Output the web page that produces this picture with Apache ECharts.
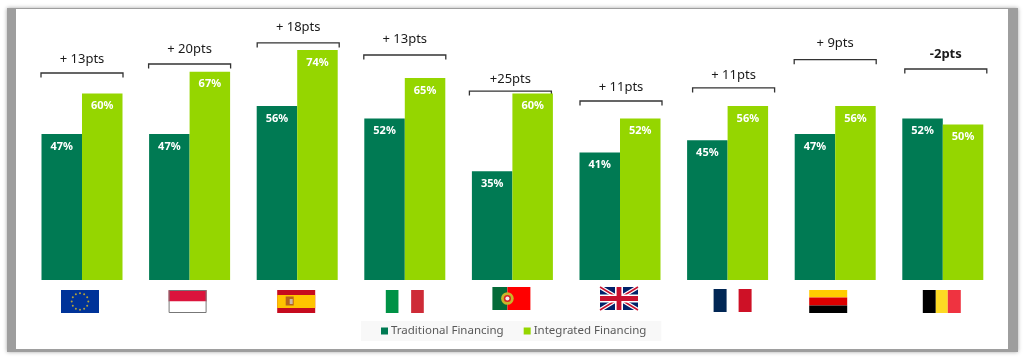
<!DOCTYPE html>
<html>
<head>
<meta charset="utf-8">
<title>Financing</title>
<script src="https://cdn.jsdelivr.net/npm/echarts@6/dist/echarts.min.js"></script>
<style>
html,body{margin:0;padding:0;background:#fff;}
#main{width:1024px;height:360px;}
</style>
</head>
<body>
<div id="main"></div>
<script>
// data
var countries = ['EU', 'Indonesia', 'Spain', 'Italy', 'Portugal', 'UK', 'France', 'Germany', 'Belgium'];
var traditional = [47, 47, 56, 52, 35, 41, 45, 47, 52];
var integrated = [60, 67, 74, 65, 60, 52, 56, 56, 50];
var deltaLabels = ['+ 13pts', '+ 20pts', '+ 18pts', '+ 13pts', '+25pts', '+ 11pts', '+ 11pts', '+ 9pts', '-2pts'];
var bracketLevels = [66.6, 69.5, 76.3, 72.4, 60.8, 57.6, 61.8, 70.9, 67.9];

// small per item nudges, the brackets and flags are not centred in the original
var bracketShift = [0, 0, 1, 0, -2, 1, 6, 0, 3];
var labelGap = [14, 15, 16, 16, 12, 14, 13, 16, 15];
var flagShift = [-2, -2, -1, 0, -1, -1, 5, -7, -1];
var flagTop = [290, 290, 290, 290, 287, 287, 289, 290, 290];

var myChart = echarts.init(document.getElementById('main'));
var FONT = '"Noto Sans", sans-serif';

function rect(x, y, w, h, fill) {
    return {type: 'rect', shape: {x: x, y: y, width: w, height: h}, style: {fill: fill}};
}
function dot(x, y, r, fill) {
    return {type: 'circle', shape: {cx: x, cy: y, r: r}, style: {fill: fill}};
}
function diag(x0, y0, x1, y1, color, w) {
    return {type: 'line', shape: {x1: x0, y1: y0, x2: x1, y2: y1}, style: {stroke: color, lineWidth: w}};
}

// flags are 38x23 little drawings
function flagShapes(name, x, y) {
    var w = 38, h = 23, out = [];
    if (name == 'EU') {
        out.push(rect(x, y, w, h, '#003399'));
        for (var k = 0; k < 12; k++) {
            var a = k * Math.PI / 6;
            out.push(dot(x + w / 2 + 8.3 * Math.cos(a), y + h / 2 + 8.3 * Math.sin(a), 1, '#b5a33a'));
        }
    } else if (name == 'Indonesia') {
        out.push(rect(x, y, w, h / 2, '#dc143c'));
        out.push(rect(x, y + h / 2, w, h / 2, '#fff'));
        out.push({type: 'rect', shape: {x: x + 0.5, y: y + 0.5, width: w - 1, height: h - 1},
            style: {fill: 'none', stroke: '#777', lineWidth: 1}});
    } else if (name == 'Spain') {
        out.push(rect(x, y, w, h, '#c60b1e'));
        out.push(rect(x, y + 5, w, 13, '#ffc400'));
        out.push(rect(x + 8.5, y + 6.5, 8, 9, '#b5651d'));
        out.push(rect(x + 12.5, y + 9, 3, 5, '#c9b8a8'));
    } else if (name == 'Italy') {
        out.push(rect(x, y, w / 3, h, '#009246'));
        out.push(rect(x + 2 * w / 3, y, w / 3, h, '#ce2b37'));
    } else if (name == 'Portugal') {
        out.push(rect(x, y, 15, h, '#046a38'));
        out.push(rect(x + 15, y, w - 15, h, '#ff0000'));
        out.push(dot(x + 15, y + h / 2, 6.3, '#c9b52a'));
        out.push(dot(x + 15, y + h / 2, 3.6, '#d8232a'));
        out.push(dot(x + 15, y + h / 2, 2, '#f0f0f0'));
    } else if (name == 'UK') {
        out.push(rect(x, y, w, h, '#012169'));
        out.push(diag(x, y, x + w, y + h, '#fff', 4));
        out.push(diag(x + w, y, x, y + h, '#fff', 4));
        out.push(diag(x, y, x + w, y + h, '#c8102e', 1.5));
        out.push(diag(x + w, y, x, y + h, '#c8102e', 1.5));
        out.push(rect(x + w / 2 - 4, y, 8, h, '#fff'));
        out.push(rect(x, y + h / 2 - 4, w, 8, '#fff'));
        out.push(rect(x + w / 2 - 2.4, y, 4.8, h, '#c8102e'));
        out.push(rect(x, y + h / 2 - 2.4, w, 4.8, '#c8102e'));
    } else if (name == 'France') {
        out.push(rect(x, y, 13, h, '#002654'));
        out.push(rect(x + 25, y, 13, h, '#ce1126'));
    } else if (name == 'Germany') {
        out.push(rect(x, y, w, 7.5, '#ffcc00'));
        out.push(rect(x, y + 7.5, w, 8, '#dd0000'));
        out.push(rect(x, y + 15.5, w, 7.5, '#000'));
    } else if (name == 'Belgium') {
        out.push(rect(x, y, 13, h, '#000'));
        out.push(rect(x + 13, y, 12, h, '#fdda24'));
        out.push(rect(x + 25, y, 13, h, '#ef3340'));
    }
    return out;
}

var idx = countries.map(function (c, i) { return [i, bracketLevels[i]]; });
var barLabel = {show: true, position: 'insideTop', distance: 7, formatter: '{c}%',
    color: '#fff', fontWeight: 'bold', fontSize: 11, fontFamily: FONT};

var option = {
    animation: false,
    backgroundColor: '#fff',
    // frame of the picture
    graphic: [
        {type: 'rect', z: -10, shape: {x: 7, y: 8, width: 1011, height: 344},
            style: {fill: '#9e9e9e', shadowBlur: 4, shadowColor: 'rgba(0,0,0,0.35)'}},
        {type: 'rect', z: -9, shape: {x: 16, y: 9, width: 992, height: 340}, style: {fill: '#fff'}}
    ],
    grid: {left: 28.2, right: 27.4, top: 0.3, bottom: 80},
    xAxis: {
        type: 'category',
        data: countries,
        axisLine: {show: false},
        axisTick: {show: false},
        axisLabel: {show: false}
    },
    yAxis: {type: 'value', min: 0, max: 90, show: false, splitLine: {show: false}},
    legend: {
        data: ['Traditional Financing', 'Integrated Financing'],
        left: 361,
        top: 321,
        padding: [4, 15, 4, 20],
        backgroundColor: '#f8f8f8',
        itemWidth: 7,
        itemHeight: 7,
        itemGap: 20,
        icon: 'rect',
        textStyle: {color: '#595959', fontSize: 11.5, fontFamily: FONT, padding: [0, 0, 0, -2]}
    },
    series: [
        {
            name: 'Traditional Financing',
            type: 'bar',
            data: traditional,
            barWidth: 40.5,
            barGap: '0%',
            itemStyle: {color: '#007a53'},
            label: barLabel
        },
        {
            name: 'Integrated Financing',
            type: 'bar',
            data: integrated,
            barWidth: 40.5,
            itemStyle: {color: '#95d600'},
            label: barLabel
        },
        {
            // brackets with the point difference above them
            name: 'delta',
            type: 'custom',
            silent: true,
            data: idx,
            encode: {x: 0, y: 1},
            renderItem: function (params, api) {
                var i = api.value(0);
                var p = api.coord([i, api.value(1)]);
                var cx = p[0] + bracketShift[i], y = p[1];
                var last = i == countries.length - 1;
                return {type: 'group', children: [
                    {type: 'polyline',
                        shape: {points: [[cx - 41, y + 4.5], [cx - 41, y], [cx + 41, y], [cx + 41, y + 4.5]]},
                        style: {stroke: '#333', lineWidth: 1.3, fill: 'none'}},
                    {type: 'text',
                        style: {x: cx, y: y - labelGap[i], text: deltaLabels[i], align: 'center', verticalAlign: 'middle',
                            fill: '#1a1a1a', fontSize: 13, fontFamily: FONT, fontWeight: last ? 'bold' : 'normal'}}
                ]};
            }
        },
        {
            name: 'flags',
            type: 'custom',
            silent: true,
            data: idx,
            encode: {x: 0, y: 1},
            renderItem: function (params, api) {
                var i = api.value(0);
                var cx = api.coord([i, 0])[0] + flagShift[i];
                return {type: 'group', children: flagShapes(countries[i], cx - 19, flagTop[i])};
            }
        }
    ]
};
myChart.setOption(option);
</script>
</body>
</html>
